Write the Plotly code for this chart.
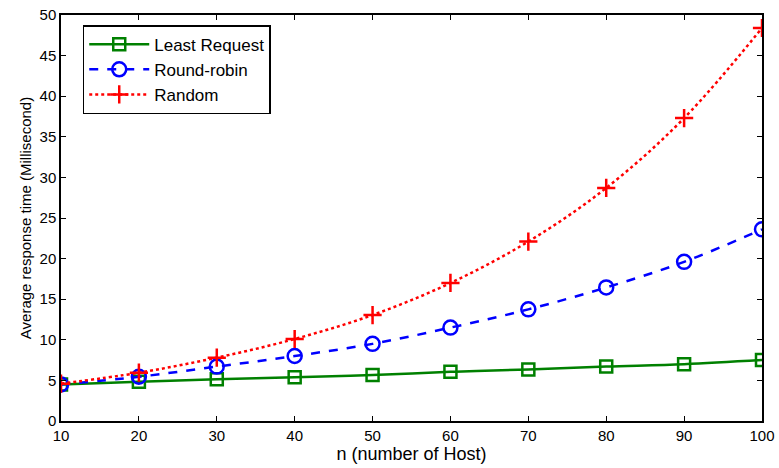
import plotly.graph_objects as go

hosts = [10, 20, 30, 40, 50, 60, 70, 80, 90, 100]
least_request = [4.5, 4.84, 5.13, 5.38, 5.67, 6.05, 6.35, 6.7, 7.0, 7.5]
round_robin = [4.5, 5.45, 6.7, 8.0, 9.5, 11.5, 13.75, 16.45, 19.6, 23.6]
random_ = [4.6, 5.95, 7.8, 10.1, 13.05, 17.0, 22.1, 28.7, 37.3, 48.4]

x_ticks = [10, 20, 30, 40, 50, 60, 70, 80, 90, 100]
y_ticks = [0, 5, 10, 15, 20, 25, 30, 35, 40, 45, 50]

FONT = "Liberation Sans, Arial"

fig = go.Figure()
fig.add_trace(go.Scatter(
    x=hosts, y=least_request, name="Least Request", mode="lines+markers",
    line=dict(color="#008000", width=2.5, shape="spline"),
    marker=dict(symbol="square-open", size=12, color="#008000", line=dict(width=2.5, color="#008000"))))
fig.add_trace(go.Scatter(
    x=hosts, y=round_robin, name="Round-robin", mode="lines+markers",
    line=dict(color="#0000FF", width=2.5, dash="dash", shape="spline"),
    marker=dict(symbol="circle-open", size=14, color="#0000FF", line=dict(width=2.5, color="#0000FF"))))
fig.add_trace(go.Scatter(
    x=hosts, y=random_, name="Random", mode="lines+markers",
    line=dict(color="#FF0000", width=2.5, dash="dot", shape="spline"),
    marker=dict(symbol="cross-thin-open", size=13, color="#FF0000", line=dict(width=2.5, color="#FF0000"))))

axis_common = dict(
    showline=True, linecolor="black", linewidth=1.5, mirror="ticks",
    ticks="inside", ticklen=5, tickcolor="black", showgrid=False, zeroline=False,
    tickfont=dict(family=FONT, size=15, color="black"), automargin=False,
)
fig.update_xaxes(range=[10, 100], tickvals=x_ticks,
                 title=dict(text="n (number of Host)", font=dict(family=FONT, size=18, color="black"), standoff=4),
                 **axis_common)
fig.update_yaxes(range=[0, 50], tickvals=y_ticks,
                 title=dict(text="Average response time (Millisecond)", font=dict(family=FONT, size=15, color="black"), standoff=4),
                 **axis_common)

fig.update_layout(
    width=779, height=468,
    margin=dict(l=61, r=17, t=15, b=47),
    paper_bgcolor="white", plot_bgcolor="white",
    font=dict(family=FONT, size=15, color="black"),
    legend=dict(x=0.031, y=0.975, xanchor="left", yanchor="top",
                bordercolor="black", borderwidth=1.5, bgcolor="white",
                font=dict(family=FONT, size=17), tracegroupgap=0, itemwidth=60),
)

fig.write_html("out.html")
